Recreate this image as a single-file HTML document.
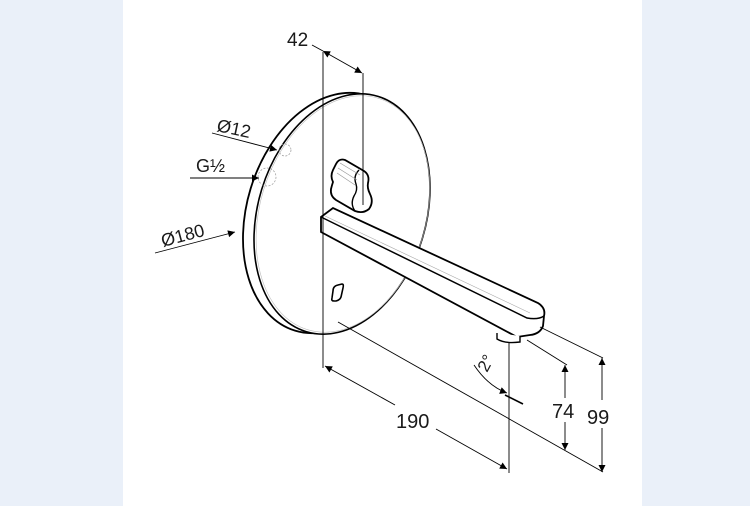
<!DOCTYPE html>
<html><head><meta charset="utf-8"><style>
html,body{margin:0;padding:0;background:#eaf0f9;}
svg{display:block}
text{font-family:"Liberation Sans",sans-serif;fill:#1a1a1a}
</style></head><body>
<svg width="750" height="506" viewBox="0 0 750 506" xmlns="http://www.w3.org/2000/svg">
<rect x="0" y="0" width="750" height="506" fill="#eaf0f9"/>
<rect x="123" y="0" width="519" height="506" fill="#fff"/>
<defs>
<marker id="a" viewBox="0 0 10 10" refX="10" refY="5" markerWidth="11" markerHeight="7" orient="auto-start-reverse" markerUnits="userSpaceOnUse"><path d="M0,0 L10,5 L0,10 z" fill="#000"/></marker>
</defs>
<g stroke="#000" fill="none">
<!-- disc back -->
<ellipse cx="331" cy="213" rx="84" ry="123" transform="rotate(17 331 213)" fill="#fff" stroke-width="1.8"/>
<ellipse cx="342" cy="214" rx="84" ry="123" transform="rotate(17 342 214)" fill="#fff" stroke-width="1.6"/>
<ellipse cx="343" cy="214" rx="83" ry="121" transform="rotate(17 343 214)" stroke="#bbb" stroke-width="0.6"/>
<!-- holes -->
<circle cx="285" cy="150" r="6" stroke="#999" stroke-width="0.7" stroke-dasharray="2,1.5"/>
<circle cx="267" cy="177" r="9" stroke="#999" stroke-width="0.7" stroke-dasharray="2,1.5"/>
<!-- sensor window -->
<path d="M333,291 Q333,286 338,285 L342,284 Q344,284 343,288 L341,297 Q340,300 336,301 L334,301 Q331,301 332,298 Z" stroke-width="1.6" fill="#fff"/>
<!-- spout -->
<path d="M321,217 L333,208 L538,303 Q546,308 544,316 L543,326 Q540,334 530,335 L517,337 L321,232 Z" fill="#fff" stroke-width="1.8"/>
<path d="M321,217 L527,318 Q538,320 544,316" stroke-width="1.5"/>
<path d="M325,216 L530,313" stroke="#aaa" stroke-width="0.6"/>
<path d="M497,333 L497,339 Q505,344 520,342 L520,336" fill="#fff" stroke-width="1.4"/>
<!-- knob -->
<path d="M336,164 Q339,158 345,160 L364,171 Q370,175 368,183 Q367,188 370,194 Q374,202 369,209 Q363,214 355,211 L336,200 Q330,196 331,189 Q332,185 333,182 Q330,176 333,170 Z" fill="#fff" stroke-width="1.8"/>
<path d="M359,170 Q353,176 356,184 Q358,190 354,196 Q350,204 355,211" stroke-width="1.4"/>
<path d="M340,163 L360,175 M338,168 L357,180 M337,173 L355,185" stroke="#999" stroke-width="0.7"/>
</g>
<!-- dimension lines -->
<g stroke="#000" stroke-width="0.9" fill="none">
<line x1="323" y1="52" x2="323" y2="368"/>
<line x1="363" y1="73" x2="363" y2="205"/>
<line x1="312" y1="45" x2="323" y2="51"/>
<line x1="323" y1="51" x2="362" y2="73" marker-start="url(#a)" marker-end="url(#a)"/>
<line x1="212" y1="133" x2="277" y2="150" marker-end="url(#a)"/>
<line x1="190" y1="178" x2="259" y2="178" marker-end="url(#a)"/>
<line x1="155" y1="253" x2="235" y2="232" marker-end="url(#a)"/>
<line x1="325" y1="366" x2="395" y2="405" marker-start="url(#a)"/>
<line x1="436" y1="429" x2="507" y2="469" marker-end="url(#a)"/>
<line x1="509" y1="343" x2="509" y2="473"/>
<line x1="338" y1="322" x2="603" y2="472"/>
<line x1="540" y1="327" x2="603" y2="358"/>
<line x1="527" y1="340" x2="567" y2="365"/>
<line x1="602" y1="358" x2="602" y2="400" marker-start="url(#a)"/>
<line x1="602" y1="428" x2="602" y2="472" marker-end="url(#a)"/>
<line x1="565" y1="365" x2="565" y2="398" marker-start="url(#a)"/>
<line x1="565" y1="422" x2="565" y2="450" marker-end="url(#a)"/>
<path d="M474,365 Q488,386 507,393" marker-end="url(#a)"/>
<line x1="505" y1="395" x2="523" y2="404" stroke-width="1.6"/>
</g>
<text x="287" y="46" font-size="19">42</text>
<text x="0" y="0" font-size="18" transform="translate(216,131) rotate(12)">Ø12</text>
<text x="196" y="172" font-size="18">G½</text>
<text x="0" y="0" font-size="18" transform="translate(163,247) rotate(-15)">Ø180</text>
<text x="396" y="428" font-size="20">190</text>
<text x="552" y="418" font-size="20">74</text>
<text x="587" y="424" font-size="20">99</text>
<text x="0" y="0" font-size="17" transform="translate(487,373) rotate(-62)">2°</text>
</svg>
</body></html>
